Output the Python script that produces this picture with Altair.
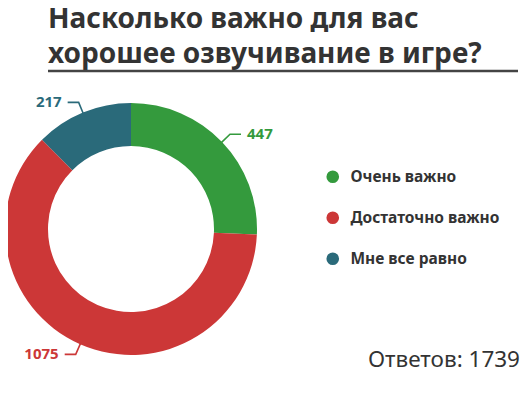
import math
import altair as alt
import pandas as pd

# ---- data ----
categories = ["Очень важно", "Достаточно важно", "Мне все равно"]
values = [447, 1075, 217]
colors = ["#349a3d", "#cc3737", "#2a6a7a"]
title_lines = ["Насколько важно для вас", "хорошее озвучивание в игре?"]
total_label = "Ответов: 1739"

# ---- layout (pixels inside the view; view starts 16px below page top) ----
PAD_TOP = 8
W, H = 513, 378 - PAD_TOP
CX, CY = 123, 213
R_OUT, R_IN = 126, 83
R_LEAD = 137
FONT = "Noto Sans"
INK = "#333333"

color_scale = alt.Scale(domain=categories, range=colors)

df = pd.DataFrame({"cat": categories, "value": values, "order": list(range(len(categories)))})

# leader lines and labels derived from the values
total = sum(values)
line_rows, text_rows = [], []
cum = 0
for cat, v in zip(categories, values):
    mid = (cum + v / 2) / total * 2 * math.pi
    cum += v
    s, c = math.sin(mid), math.cos(mid)
    side = 1 if s > 0 else -1
    p0 = (CX + (R_OUT - 1) * s, CY - (R_OUT - 1) * c)
    p1 = (CX + R_LEAD * s, CY - R_LEAD * c)
    p2 = (p1[0] + side * 11, p1[1])
    for i, (px, py) in enumerate([p0, p1, p2]):
        line_rows.append({"cat": cat, "i": i, "px": px, "py": py})
    text_rows.append({"cat": cat, "label": str(v), "px": p2[0] + side * 6, "py": p2[1],
                      "anchor": "left" if side > 0 else "right"})
lines_df = pd.DataFrame(line_rows)
text_df = pd.DataFrame(text_rows)

arc = alt.Chart(df).mark_arc(innerRadius=R_IN, outerRadius=R_OUT).encode(
    theta=alt.Theta("value:Q", stack=True),
    order=alt.Order("order:Q"),
    color=alt.Color("cat:N", scale=color_scale, sort=categories,
                    legend=alt.Legend(orient="none", legendX=317, legendY=153, title=None,
                                      symbolType="circle", symbolSize=160, symbolStrokeWidth=0,
                                      labelFont=FONT, labelFontSize=15.5, labelFontWeight="bold",
                                      labelColor=INK, labelOffset=10, rowPadding=24, padding=0)),
    x=alt.value(CX),
    y=alt.value(CY),
)

leaders = alt.Chart(lines_df).mark_line(strokeWidth=1.6).encode(
    x=alt.X("px:Q", scale=None, axis=None),
    y=alt.Y("py:Q", scale=None, axis=None),
    detail="cat:N",
    order="i:Q",
    color=alt.Color("cat:N", scale=color_scale, legend=None),
)

def label_layer(anchor):
    return alt.Chart(text_df).transform_filter(alt.datum.anchor == anchor).mark_text(
        align=anchor, baseline="middle", font=FONT, fontSize=15, fontWeight="bold"
    ).encode(
        x=alt.X("px:Q", scale=None, axis=None),
        y=alt.Y("py:Q", scale=None, axis=None),
        text="label:N",
        color=alt.Color("cat:N", scale=color_scale, legend=None),
    )

one = pd.DataFrame({"k": [0]})

title = alt.Chart(one).mark_text(
    text=title_lines, align="left", baseline="alphabetic", font=FONT, fontSize=28,
    fontWeight="bold", color=INK, lineHeight=35,
).encode(x=alt.value(40), y=alt.value(12))

underline = alt.Chart(one).mark_rule(strokeWidth=2.5, color="#444444").encode(
    x=alt.value(40), x2=alt.value(510), y=alt.value(55)
)

footer = alt.Chart(one).mark_text(
    text=total_label, align="right", baseline="alphabetic", font=FONT, fontSize=22.5,
    color=INK,
).encode(x=alt.value(512), y=alt.value(351))

chart = alt.layer(arc, leaders, label_layer("left"), label_layer("right"),
                  title, underline, footer).properties(
    width=W, height=H, autosize="none", background="white",
    padding={"left": 0, "top": PAD_TOP, "right": 0, "bottom": 0},
).configure_view(stroke=None)

chart.save("out.html", embed_options={"renderer": "svg", "actions": False})
